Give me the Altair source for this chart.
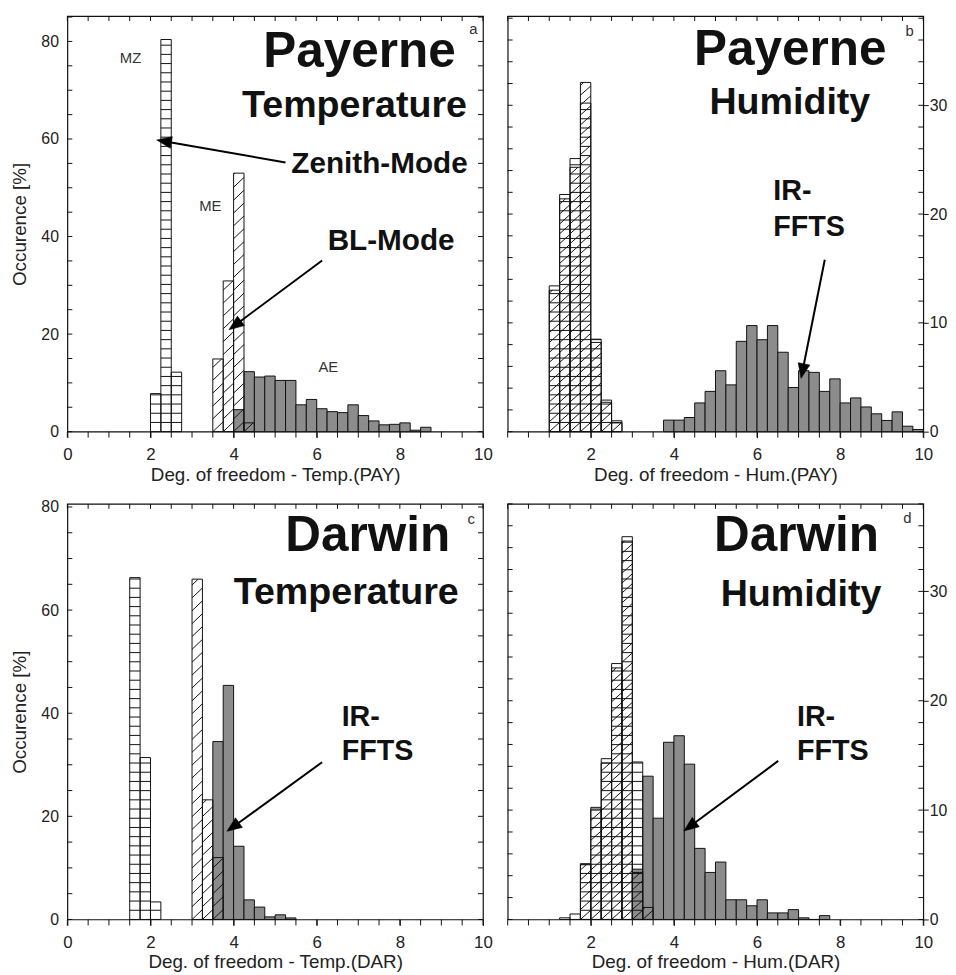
import math
import altair as alt
import pandas as pd

BW = 0.25          # histogram bin width
PW, PH = 420, 420  # plot area of each panel
INK = "#111111"
GREY = "#8c8c8c"
FONT = "Liberation Sans"

# ---------------- data (bin start, occurrence) ----------------
# (a) Payerne temperature
pa_mz_x = [2.0, 2.25, 2.5]
pa_mz_y = [7.8, 80.4, 12.2]
pa_me_x = [3.5, 3.75, 4.0, 4.25]
pa_me_y = [14.9, 30.9, 53.0, 1.8]
pa_ae_x = [4.0, 4.25, 4.5, 4.75, 5.0, 5.25, 5.5, 5.75, 6.0, 6.25, 6.5, 6.75,
           7.0, 7.25, 7.5, 7.75, 8.0, 8.25, 8.5]
pa_ae_y = [4.5, 12.3, 11.2, 11.4, 10.5, 10.5, 5.5, 6.6, 4.7, 4.1, 3.9, 5.5,
           3.3, 2.2, 1.4, 1.5, 1.8, 0.3, 0.9]

# (b) Payerne humidity
pb_mz_x = [1.0, 1.25, 1.5, 1.75, 2.0, 2.25, 2.5]
pb_mz_y = [13.4, 21.8, 25.1, 30.2, 8.5, 2.9, 1.0]
pb_me_x = [1.0, 1.25, 1.5, 1.75, 2.0, 2.25, 2.5]
pb_me_y = [13.0, 21.4, 24.3, 32.1, 8.2, 2.7, 0.8]
pb_ir_x = [3.75, 4.0, 4.25, 4.5, 4.75, 5.0, 5.25, 5.5, 5.75, 6.0, 6.25, 6.5,
           6.75, 7.0, 7.25, 7.5, 7.75, 8.0, 8.25, 8.5, 8.75, 9.0, 9.25, 9.5, 9.75]
pb_ir_y = [1.06, 1.06, 1.3, 2.64, 3.7, 5.6, 4.3, 8.3, 9.75, 8.45, 9.75, 7.3,
           4.06, 5.6, 5.45, 3.7, 4.85, 2.64, 3.1, 2.27, 1.64, 1.03, 1.82, 0.5, 0.2]

# (c) Darwin temperature
pc_mz_x = [1.5, 1.75, 2.0]
pc_mz_y = [66.3, 31.4, 3.4]
pc_me_x = [3.0, 3.25, 3.5]
pc_me_y = [66.0, 23.2, 12.0]
pc_ir_x = [3.5, 3.75, 4.0, 4.25, 4.5, 4.75, 5.0, 5.25]
pc_ir_y = [34.5, 45.4, 14.2, 3.8, 2.4, 0.5, 0.9, 0.3]

# (d) Darwin humidity
pd_mz_x = [1.25, 1.5, 1.75, 2.0, 2.25, 2.5, 2.75, 3.0]
pd_mz_y = [0.15, 0.5, 5.1, 10.25, 14.7, 23.4, 35.0, 14.4]
pd_me_x = [1.75, 2.0, 2.25, 2.5, 2.75, 3.0, 3.25]
pd_me_y = [5.0, 10.0, 14.3, 23.0, 34.6, 4.3, 1.1]
pd_ir_x = [3.0, 3.25, 3.5, 3.75, 4.0, 4.25, 4.5, 4.75, 5.0, 5.25, 5.5, 5.75,
           6.0, 6.25, 6.5, 6.75, 7.0, 7.25, 7.5]
pd_ir_y = [4.6, 13.1, 9.26, 16.2, 16.8, 14.2, 6.5, 4.3, 5.25, 1.8, 1.8, 1.25,
           1.8, 0.6, 0.6, 0.9, 0.15, 0.0, 0.35]

X_TICKS = [i * 0.5 for i in range(21)]
X_LABELS_LEFT = [0, 2, 4, 6, 8, 10]
X_LABELS_RIGHT = [2, 4, 6, 8, 10]
Y_LABELS_TEMP = [0, 20, 40, 60, 80]
Y_LABELS_HUM = [0, 10, 20, 30]

HEAD_PATH = "M0,-1L0.8,1L-0.8,1Z"


def bars_df(xs, hs):
    return pd.DataFrame({"x0": xs, "x1": [v + BW for v in xs], "h": hs,
                         "b": [0.0] * len(xs)})


def hline_df(xs, hs, step):
    rows = []
    for x0, h in zip(xs, hs):
        k = 1
        while k * step < h - 1e-6:
            rows.append({"x0": x0, "x1": x0 + BW, "y": k * step})
            k += 1
    return pd.DataFrame(rows, columns=["x0", "x1", "y"])


def diag_df(xs, hs, rise, gap):
    rows = []
    for x0, h in zip(xs, hs):
        k = math.floor(-rise / gap)
        while k * gap < h:
            s = k * gap
            xa, ya, xb, yb = x0, s, x0 + BW, s + rise
            if ya < 0:
                xa = x0 + BW * (-s) / rise
                ya = 0.0
            if yb > h:
                xb = x0 + BW * (h - s) / rise
                yb = h
            if xb > xa + 1e-6:
                rows.append({"xa": xa, "ya": ya, "xb": xb, "yb": yb})
            k += 1
    return pd.DataFrame(rows, columns=["xa", "ya", "xb", "yb"])


def arrow_layers(X, Y, pxx, pxy, start, tip):
    (sx, sy), (tx, ty) = start, tip
    dxp = (tx - sx) * pxx
    dyp = -(ty - sy) * pxy
    L = math.hypot(dxp, dyp)
    ux, uy = dxp / L, dyp / L
    r = 7.5
    cx = tx - ux * r / pxx
    cy = ty + uy * r / pxy
    ang = math.degrees(math.atan2(dxp, -dyp)) % 360
    shaft = (alt.Chart(pd.DataFrame({"x": [sx], "y": [sy], "x2": [cx], "y2": [cy]}))
             .mark_rule(color="black", strokeWidth=2)
             .encode(x=X("x:Q"), y=Y("y:Q"), x2="x2", y2="y2"))
    head = (alt.Chart(pd.DataFrame({"x": [cx], "y": [cy]}))
            .mark_point(shape=HEAD_PATH, filled=True, fill="black", stroke="black",
                        strokeWidth=0.5, opacity=1, size=(2 * r) ** 2, angle=ang)
            .encode(x=X("x:Q"), y=Y("y:Q")))
    return [shaft, head]


def panel(mz, me, gr, ymax, side, xtitle, ytick_step, ann, arrows):
    xs = alt.Scale(domain=[0, 10], nice=False, zero=False)
    ys = alt.Scale(domain=[0, ymax], nice=False, zero=True)
    pxx = PW / 10.0
    pxy = PH / ymax

    labs = X_LABELS_LEFT if side == "left" else X_LABELS_RIGHT
    xaxis = alt.Axis(values=labs, title=xtitle, tickSize=6, labelPadding=9,
                     titlePadding=3, labelFlush=False, labelFontSize=17, titleFontSize=19)
    if side == "left":
        yaxis = alt.Axis(values=Y_LABELS_TEMP, orient="left", tickSize=0, labelFontSize=16,
                         labelPadding=9, title="Occurence [%]", titlePadding=12, titleFontSize=19)
    else:
        yaxis = alt.Axis(values=Y_LABELS_HUM, orient="right", tickSize=5, labelFontSize=16,
                         labelPadding=1, title="")

    def X(f, **k):
        return alt.X(f, scale=xs, **k)

    def Y(f, **k):
        return alt.Y(f, scale=ys, **k)

    layers = []
    # grey (AE / IR-FFTS) bars, carrying the axes
    layers.append(alt.Chart(bars_df(*gr)).mark_rect(fill=GREY, stroke=INK, strokeWidth=1)
                  .encode(x=X("x0:Q", axis=xaxis), x2="x1", y=Y("h:Q", axis=yaxis), y2="b"))
    # MZ: horizontal hatching
    hstep = 9.3 / pxy
    hd = hline_df(mz[0], mz[1], hstep)
    if len(hd):
        layers.append(alt.Chart(hd).mark_rule(color=INK, strokeWidth=1)
                      .encode(x=X("x0:Q"), x2="x1", y=Y("y:Q")))
    # ME: diagonal hatching
    rise = (10.0 if side == "left" else 9.4) / pxy
    gap = (13.0 if side == "left" else 10.0) / pxy
    dd = diag_df(me[0], me[1], rise, gap)
    if len(dd):
        layers.append(alt.Chart(dd).mark_rule(color=INK, strokeWidth=1)
                      .encode(x=X("xa:Q"), x2="xb", y=Y("ya:Q"), y2="yb"))
    # outlines of MZ and ME
    for xsrc, hsrc in (mz, me):
        layers.append(alt.Chart(bars_df(xsrc, hsrc)).mark_rect(fillOpacity=0, stroke=INK, strokeWidth=1)
                      .encode(x=X("x0:Q"), x2="x1", y=Y("h:Q"), y2="b"))

    # ticks drawn as rules (left/right/top inward, bottom minor outward)
    yt = pd.DataFrame({"v": [i * ytick_step for i in range(int(ymax // ytick_step) + 1)]})
    layers.append(alt.Chart(yt).mark_rule(color=INK, strokeWidth=1)
                  .encode(y=Y("v:Q"), x=alt.value(0), x2=alt.value(5)))
    layers.append(alt.Chart(yt).mark_rule(color=INK, strokeWidth=1)
                  .encode(y=Y("v:Q"), x=alt.value(PW), x2=alt.value(PW - 5)))
    xt = pd.DataFrame({"v": X_TICKS})
    layers.append(alt.Chart(xt).mark_rule(color=INK, strokeWidth=1)
                  .encode(x=X("v:Q"), y=alt.value(0), y2=alt.value(5)))
    layers.append(alt.Chart(xt).mark_rule(color=INK, strokeWidth=1)
                  .encode(x=X("v:Q"), y=alt.value(PH), y2=alt.value(PH + 6)))

    # annotations
    for a in ann:
        t, ax, ay, size, weight, align, base = a
        layers.append(alt.Chart(pd.DataFrame({"x": [ax], "y": [ay], "t": [t]}))
                      .mark_text(font=FONT, fontSize=size, fontWeight=weight, align=align,
                                 baseline=base, color=INK if weight == "bold" else "#333333")
                      .encode(x=X("x:Q"), y=Y("y:Q"), text="t:N"))

    for start, tip in arrows:
        layers.extend(arrow_layers(X, Y, pxx, pxy, start, tip))

    return alt.layer(*layers).properties(width=PW, height=PH)


B, N = "bold", "normal"
pa = panel((pa_mz_x, pa_mz_y), (pa_me_x, pa_me_y), (pa_ae_x, pa_ae_y), 85.2, "left",
           "Deg. of freedom - Temp.(PAY)", 5,
           [("Payerne", 7.03, 74.85, 50, B, "center", "alphabetic"),
            ("Temperature", 6.91, 64.5, 38, B, "center", "alphabetic"),
            ("Zenith-Mode", 7.51, 53.1, 30, B, "center", "alphabetic"),
            ("BL-Mode", 7.79, 37.3, 30, B, "center", "alphabetic"),
            ("MZ", 1.52, 76.5, 15, N, "center", "middle"),
            ("ME", 3.44, 46.2, 15, N, "center", "middle"),
            ("AE", 6.28, 13.2, 15, N, "center", "middle"),
            ("a", 9.77, 82.6, 15, N, "center", "middle")],
           [((5.25, 55.2), (2.15, 59.8)), ((6.13, 35.1), (3.89, 20.9))])

pb = panel((pb_mz_x, pb_mz_y), (pb_me_x, pb_me_y), (pb_ir_x, pb_ir_y), 38.2, "right",
           "Deg. of freedom - Hum.(PAY)", 2,
           [("Payerne", 6.80, 33.7, 50, B, "center", "alphabetic"),
            ("Humidity", 6.79, 29.2, 38, B, "center", "alphabetic"),
            ("IR-", 6.39, 21.3, 29, B, "left", "alphabetic"),
            ("FFTS", 6.39, 18.0, 29, B, "left", "alphabetic"),
            ("b", 9.67, 36.8, 15, N, "center", "middle")],
           [((7.63, 15.8), (7.06, 4.9))])

pc = panel((pc_mz_x, pc_mz_y), (pc_me_x, pc_me_y), (pc_ir_x, pc_ir_y), 80.6, "left",
           "Deg. of freedom - Temp.(DAR)", 5,
           [("Darwin", 7.23, 71.5, 50, B, "center", "alphabetic"),
            ("Temperature", 6.71, 61.2, 38, B, "center", "alphabetic"),
            ("IR-", 6.60, 37.6, 29, B, "left", "alphabetic"),
            ("FFTS", 6.60, 30.9, 29, B, "left", "alphabetic"),
            ("c", 9.72, 77.7, 15, N, "center", "middle")],
           [((6.13, 30.5), (3.84, 17.1))])

pdd = panel((pd_mz_x, pd_mz_y), (pd_me_x, pd_me_y), (pd_ir_x, pd_ir_y), 38.0, "right",
            "Deg. of freedom - Hum.(DAR)", 2,
            [("Darwin", 6.95, 33.7, 50, B, "center", "alphabetic"),
             ("Humidity", 7.06, 28.7, 38, B, "center", "alphabetic"),
             ("IR-", 6.96, 17.7, 29, B, "left", "alphabetic"),
             ("FFTS", 6.96, 14.6, 29, B, "left", "alphabetic"),
             ("d", 9.62, 36.7, 15, N, "center", "middle")],
            [((6.51, 14.5), (4.24, 8.1))])

top = alt.hconcat(pa, pb, spacing=12)
bottom = alt.hconcat(pc, pdd, spacing=12)

chart = (alt.vconcat(top, bottom, spacing=13)
         .properties(padding={"left": 1, "top": 1, "right": 0, "bottom": 0})
         .configure(background="white", font=FONT)
         .configure_view(stroke=INK, strokeWidth=1.2)
         .configure_axis(domain=False, grid=False, labelFont=FONT, titleFont=FONT,
                         labelColor="#222222", titleColor="#222222",
                         titleFontWeight="normal", tickColor=INK))

chart.save("out.html", embed_options={"renderer": "svg", "actions": False})
